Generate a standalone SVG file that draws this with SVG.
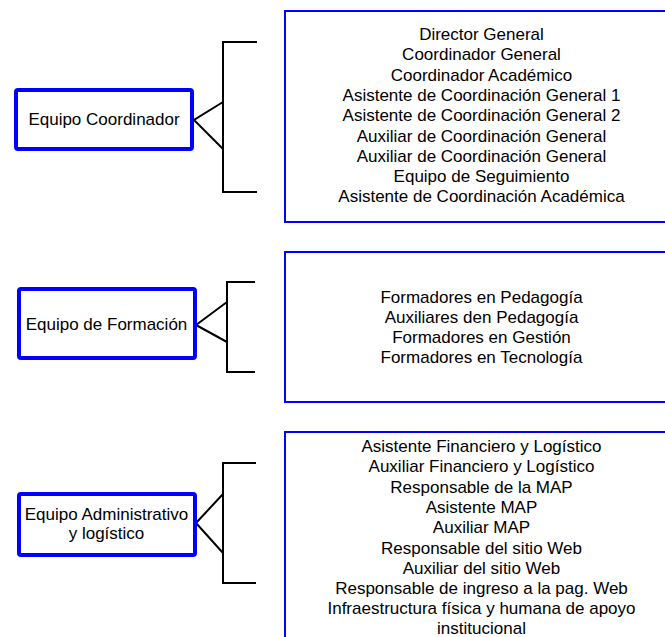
<svg xmlns="http://www.w3.org/2000/svg" width="665" height="637" viewBox="0 0 665 637">
  <style>
    .team { fill: #ffffff; stroke: #0000ff; stroke-width: 4; }
    .list { fill: #ffffff; stroke: #0000ff; stroke-width: 2; }
    .brace { fill: none; stroke: #000000; stroke-width: 2; }
    text { font-family: "Liberation Sans", Arial, sans-serif; font-size: 17px; fill: #000000; text-anchor: middle; }
  </style>
  <rect width="665" height="637" fill="#ffffff"/>

  <!-- bracket connectors -->
  <g id="connectors">
    <polyline class="brace" points="257,42 223,42 223,192 257,192"/>
    <polyline class="brace" points="223,102 194,120 223,149"/>
    <polyline class="brace" points="255,282 227,282 227,372 255,372"/>
    <polyline class="brace" points="227,302 196,325 227,342"/>
    <polyline class="brace" points="256,463 223,463 223,583 256,583"/>
    <polyline class="brace" points="223,494 196,523 223,553"/>
  </g>

  <!-- team nodes -->
  <g id="equipo-coordinador">
    <rect class="team" x="16" y="90" width="176" height="59" rx="2"/>
    <text x="104" y="125">Equipo Coordinador</text>
  </g>
  <g id="equipo-formacion">
    <rect class="team" x="19" y="289" width="176" height="69" rx="2"/>
    <text x="106.5" y="330">Equipo de Formación</text>
  </g>
  <g id="equipo-administrativo">
    <rect class="team" x="19" y="494" width="176" height="61" rx="2"/>
    <text x="106.5" y="520">Equipo Administrativo</text>
    <text x="106.5" y="539">y logístico</text>
  </g>

  <!-- member lists -->
  <g id="lista-coordinador">
    <rect class="list" x="285" y="11" width="400" height="211"/>
    <text x="481.5" y="40">Director General</text>
    <text x="481.5" y="60.3">Coordinador General</text>
    <text x="481.5" y="80.6">Coordinador Académico</text>
    <text x="481.5" y="100.9">Asistente de Coordinación General 1</text>
    <text x="481.5" y="121.2">Asistente de Coordinación General 2</text>
    <text x="481.5" y="141.5">Auxiliar de Coordinación General</text>
    <text x="481.5" y="161.8">Auxiliar de Coordinación General</text>
    <text x="481.5" y="182.1">Equipo de Seguimiento</text>
    <text x="481.5" y="202.4">Asistente de Coordinación Académica</text>
  </g>
  <g id="lista-formacion">
    <rect class="list" x="285" y="252" width="400" height="150"/>
    <text x="481.5" y="303">Formadores en Pedagogía</text>
    <text x="481.5" y="323">Auxiliares den Pedagogía</text>
    <text x="481.5" y="343">Formadores en Gestión</text>
    <text x="481.5" y="363">Formadores en Tecnología</text>
  </g>
  <g id="lista-administrativo">
    <rect class="list" x="285" y="432" width="400" height="230"/>
    <text x="481.5" y="452">Asistente Financiero y Logístico</text>
    <text x="481.5" y="472.3">Auxiliar Financiero y Logístico</text>
    <text x="481.5" y="492.6">Responsable de la MAP</text>
    <text x="481.5" y="512.9">Asistente MAP</text>
    <text x="481.5" y="533.2">Auxiliar MAP</text>
    <text x="481.5" y="553.5">Responsable del sitio Web</text>
    <text x="481.5" y="573.8">Auxiliar del sitio Web</text>
    <text x="481.5" y="594.1">Responsable de ingreso a la pag. Web</text>
    <text x="481.5" y="614.2">Infraestructura física y humana de apoyo</text>
    <text x="481.5" y="633.5">institucional</text>
  </g>
</svg>
